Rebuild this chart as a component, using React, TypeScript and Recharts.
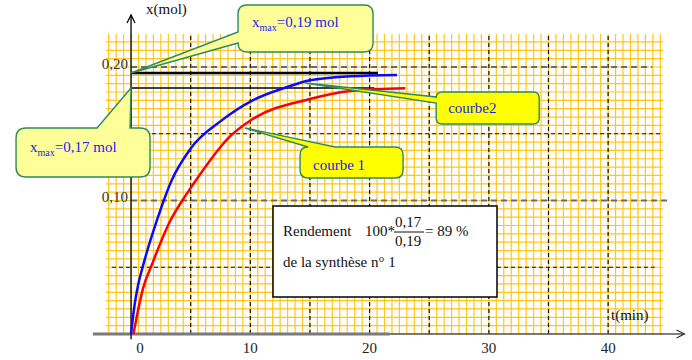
import React from "react";
import { LineChart, Line, XAxis, YAxis, CartesianGrid, ReferenceLine, ReferenceDot } from "recharts";

// courbe 2 (blue) and courbe 1 (red): t in min, x in mol
const blueT = [0, 0.3, 0.6, 1, 2.2, 3.4, 5, 7.6, 10.2, 13.1, 15, 18.4, 22.3];
const blueX = [0, 0.022, 0.037, 0.051, 0.086, 0.115, 0.139, 0.16, 0.175, 0.185, 0.19, 0.193, 0.194];
const redT = [0.2, 1, 1.75, 3.3, 4.3, 5.2, 8.3, 10.2, 15, 18.4, 23];
const redX = [0, 0.034, 0.052, 0.085, 0.1, 0.112, 0.148, 0.161, 0.176, 0.182, 0.184];

const xTicks = [0, 10, 20, 30, 40];
const yTicks = [0.1, 0.2];
const dashedTimes = [5, 10, 15, 20, 25, 30, 35, 40];
const blackDashedLevels = [0.05, 0.15];
const greyDashedLevels = [0.1, 0.2];
const xmaxLevels = [0.1955, 0.1843]; // drawn xmax lines (0,19 and 0,17 in the labels)

const tDomain: [number, number] = [-2.1, 44.6];
const xDomain: [number, number] = [0, 0.2247];

const blueData = blueT.map((t, i) => ({ t, x: blueX[i] }));
const redData = redT.map((t, i) => ({ t, x: redX[i] }));

const serif = '"Liberation Serif", "DejaVu Serif", "Times New Roman", serif';
const green = "#2e8b57";
const calloutBlue = "#2222ee";
const txt = { fontFamily: serif, fontSize: 15 };

function calloutPath(
  x0: number, y0: number, x1: number, y1: number, r: number,
  side: "left" | "top", a: number, b: number, tx: number, ty: number
) {
  let d = `M${x0 + r},${y0}`;
  if (side === "top") d += ` L${a},${y0} L${tx},${ty} L${b},${y0}`;
  d += ` L${x1 - r},${y0} Q${x1},${y0} ${x1},${y0 + r}`;
  d += ` L${x1},${y1 - r} Q${x1},${y1} ${x1 - r},${y1}`;
  d += ` L${x0 + r},${y1} Q${x0},${y1} ${x0},${y1 - r}`;
  if (side === "left") d += ` L${x0},${b} L${tx},${ty} L${x0},${a}`;
  d += ` L${x0},${y0 + r} Q${x0},${y0} ${x0 + r},${y0} Z`;
  return d;
}

type Spec = {
  box: [number, number, number, number];
  side: "left" | "top";
  base: [number, number];
  r: number;
  fill: string;
  text: [number, number];
  label: React.ReactNode;
};

function makeCallout(s: Spec) {
  return (p: any) => {
    const { cx, cy } = p;
    const [bx0, by0, bx1, by1] = s.box;
    const side = s.side;
    const a = side === "top" ? cx + s.base[0] : cy + s.base[0];
    const b = side === "top" ? cx + s.base[1] : cy + s.base[1];
    return (
      <g>
        <path
          d={calloutPath(cx + bx0, cy + by0, cx + bx1, cy + by1, s.r, side, a, b, cx, cy)}
          fill={s.fill}
          stroke={green}
          strokeWidth={1.4}
        />
        <text x={cx + s.text[0]} y={cy + s.text[1]} style={txt} fill={calloutBlue}>
          {s.label}
        </text>
      </g>
    );
  };
}

const xmaxLabel = (v: string) => (
  <>
    <tspan>x</tspan>
    <tspan style={{ fontSize: 10 }} dy={4}>max</tspan>
    <tspan dy={-4}>{`=${v} mol`}</tspan>
  </>
);

const callouts = [
  { t: 0, x: xmaxLevels[0], spec: { box: [107, -68, 242, -21], side: "left", base: [-41, -30], r: 9, fill: "#ffff99", text: [121, -46], label: xmaxLabel("0,19") } },
  { t: 0, x: xmaxLevels[1], spec: { box: [-115, 40, 19, 89], side: "top", base: [-34, -1], r: 10, fill: "#ffff99", text: [-101, 64], label: xmaxLabel("0,17") } },
  { t: 14.6, x: 0.188, spec: { box: [131, 9, 234, 41], side: "left", base: [14, 20], r: 6, fill: "#ffff00", text: [143, 30], label: "courbe2" } },
  { t: 9.56, x: 0.1543, spec: { box: [55, 19, 158, 50], side: "top", base: [63, 90], r: 8, fill: "#ffff00", text: [68, 42], label: "courbe 1" } },
] as { t: number; x: number; spec: Spec }[];

function gridPoints(start: number, size: number, domain: [number, number], from: number, step: number) {
  const pts: number[] = [];
  for (let v = from; v <= domain[1] + 1e-9; v += step) {
    pts.push(start + ((v - domain[0]) / (domain[1] - domain[0])) * size);
  }
  return pts;
}

const XTick = (p: any) => (
  <text x={p.x + (p.payload.value === 0 ? 9 : 0)} y={353} textAnchor="middle" style={txt} fill="#222">
    {p.payload.value}
  </text>
);

const YTick = (p: any) => (
  <text x={128} y={p.y + 2} textAnchor="end" style={txt} fill="#333">
    {p.payload.value.toFixed(2).replace(".", ",")}
  </text>
);

const UpAxis = (p: any) => (
  <g>
    <line x1={p.x1} y1={p.y1} x2={p.x2} y2={p.y2} stroke="#000" strokeWidth={1.3} />
    <path d={`M${p.x2 - 4},${p.y2 + 8} L${p.x2},${p.y2} L${p.x2 + 4},${p.y2 + 8}`} fill="none" stroke="#000" strokeWidth={1.2} />
  </g>
);

const RightAxis = (p: any) => (
  <g>
    <line x1={p.x1} y1={p.y1} x2={p.x2} y2={p.y2} stroke="#555" strokeWidth={1.6} />
    <path d={`M${p.x2 - 8},${p.y2 - 4} L${p.x2},${p.y2} L${p.x2 - 8},${p.y2 + 4}`} fill="none" stroke="#333" strokeWidth={1.2} />
  </g>
);

export default function App() {
  return (
    <div style={{ position: "absolute", left: 0, top: 0, width: 692, height: 360, background: "#fff", fontFamily: serif }}>
      <LineChart width={692} height={360} data={blueData} margin={{ top: 34, right: 29, bottom: 0, left: 66 }}>
        <CartesianGrid
          stroke="#ffc61a"
          strokeWidth={1.2}
          verticalCoordinatesGenerator={({ offset }: any) => gridPoints(offset.left, offset.width, tDomain, -1.875, 0.625)}
          horizontalCoordinatesGenerator={({ offset }: any) =>
            gridPoints(offset.top, offset.height, xDomain, 0, 0.00625).map((y) => 2 * offset.top + offset.height - y)
          }
        />
        <XAxis type="number" dataKey="t" domain={tDomain} allowDataOverflow ticks={xTicks} height={26} axisLine={false} tickLine={false} tick={XTick} />
        <YAxis type="number" dataKey="x" domain={xDomain} allowDataOverflow ticks={yTicks} width={40} axisLine={false} tickLine={false} tick={YTick} />

        {dashedTimes.map((t) => (
          <ReferenceLine key={`v${t}`} x={t} stroke="#111" strokeWidth={1.2} strokeDasharray="4 3" ifOverflow="visible" />
        ))}
        {blackDashedLevels.map((v, i) => (
          <ReferenceLine
            key={`b${v}`}
            segment={[{ x: i === 0 ? -1.6 : 0, y: v }, { x: i === 0 ? 43.9 : 44.4, y: v }]}
            stroke="#111"
            strokeWidth={1.2}
            strokeDasharray="4 3"
            ifOverflow="visible"
          />
        ))}
        {greyDashedLevels.map((v, i) => (
          <ReferenceLine
            key={`g${v}`}
            segment={[{ x: 0, y: v }, { x: i === 0 ? 45.2 : 43.7, y: v }]}
            stroke="#6b6b6b"
            strokeWidth={2}
            strokeDasharray="6 4"
            ifOverflow="visible"
          />
        ))}

        <ReferenceLine segment={[{ x: -3.2, y: 0 }, { x: 21.7, y: 0 }]} stroke="#7a7a7a" strokeWidth={3} ifOverflow="visible" />
        <ReferenceLine segment={[{ x: 21.7, y: 0 }, { x: 46.4, y: 0 }]} shape={RightAxis} ifOverflow="visible" />
        <ReferenceLine segment={[{ x: 0, y: -0.004 }, { x: 0, y: 0.239 }]} shape={UpAxis} ifOverflow="visible" />

        <ReferenceLine segment={[{ x: 0, y: xmaxLevels[0] }, { x: 20.7, y: xmaxLevels[0] }]} stroke="#000" strokeWidth={2.5} ifOverflow="visible" />
        <ReferenceLine segment={[{ x: 0, y: xmaxLevels[1] }, { x: 20.4, y: xmaxLevels[1] }]} stroke="#000" strokeWidth={1.5} ifOverflow="visible" />

        <Line data={blueData} dataKey="x" type="monotone" stroke="#0a0aff" strokeWidth={2.5} dot={false} isAnimationActive={false} />
        <Line data={redData} dataKey="x" type="monotone" stroke="#ff0000" strokeWidth={2.5} dot={false} isAnimationActive={false} />

        {callouts.map((c, i) => (
          <ReferenceDot key={`c${i}`} x={c.t} y={c.x} r={1} ifOverflow="visible" shape={makeCallout(c.spec)} />
        ))}
      </LineChart>

      <svg width={692} height={360} style={{ position: "absolute", left: 0, top: 0, pointerEvents: "none" }}>
        <text x={146} y={14} style={txt} fill="#111">x(mol)</text>
        <text x={611} y={320} style={txt} fill="#111">t(min)</text>
        <rect x={273} y={206} width={224} height={91} fill="#fff" stroke="#000" strokeWidth={1.5} />
        <g style={txt} fill="#111">
          <text x={283} y={236}>Rendement</text>
          <text x={365} y={236}>100*</text>
          <text x={395} y={227}>0,17</text>
          <line x1={394} y1={232} x2={424} y2={232} stroke="#111" strokeWidth={1} />
          <text x={395} y={246}>0,19</text>
          <text x={425} y={236}>= 89 %</text>
          <text x={283} y={267}>de la synthèse n° 1</text>
        </g>
      </svg>
    </div>
  );
}
